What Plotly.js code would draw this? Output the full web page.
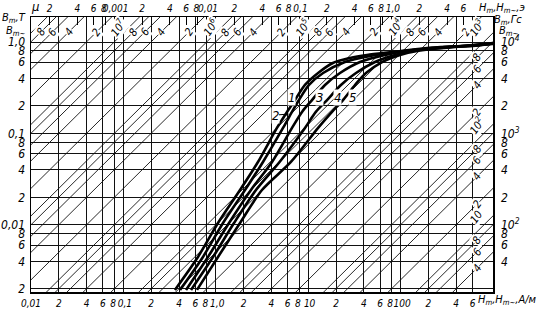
<!DOCTYPE html>
<html><head><meta charset="utf-8">
<script src="https://cdn.plot.ly/plotly-3.0.1.min.js"></script>
<style>html,body{margin:0;padding:0;background:#fff}#chart{width:544px;height:312px}</style>
</head><body><div id="chart"></div>
<script>
// ---- axis ticks ----
const H_tickvals = [0.01,0.02,0.04,0.06,0.08,0.1,0.2,0.4,0.6,0.8,1,2,4,6,8,10,20,40,60,80,100,200,400,600];
const H_ticktext = ["0,01","2","4","6","8\u00a0","\u00a00,1","2","4","6","8\u00a0","\u00a01,0","2","4","6","8\u00a0","\u00a010","2","4","6","8\u00a0","\u00a0100","2","4","6"];
const Oe_tickvals = [2e-4,4e-4,6e-4,8e-4,1e-3,2e-3,4e-3,6e-3,8e-3,0.01,0.02,0.04,0.06,0.08,0.1,0.2,0.4,0.6,0.8,1,2,4,6];
const Oe_ticktext = ["2","4","6","8\u00a0","\u00a00,001","2","4","6","8\u00a0","\u00a00,01","2","4","6","8\u00a0","\u00a00,1","2","4","6","8\u00a0","\u00a01,0","2","4","6"];
const B_tickvals = [0.002,0.004,0.006,0.008,0.01,0.02,0.04,0.06,0.08,0.1,0.2,0.4,0.6,0.8,1];
const B_ticktext = ["2","4","6","8","0,01","2","4","6","8","0,1","2","4","6","8","1,0"];
const Gs_tickvals = [40,60,80,100,200,400,600,800,1000,2000,4000,6000,8000,10000];
const Gs_ticktext = ["4","6","8","10<sup>2</sup>","2","4","6","8","10<sup>3</sup>","2","4","6","8","10<sup>4</sup>"];

// ---- permeability lines (relative permeability) ----
const mu_values = [4,6,8,10,20,40,60,80,100,200,400,600,800,1e3,2e3,4e3,6e3,8e3,1e4,2e4,4e4,6e4,8e4,1e5,2e5,4e5,6e5,8e5,1e6,2e6,4e6,6e6,8e6,1e7,2e7,4e7,6e7,8e7,1e8];
const mu_top_values = [8e7,6e7,4e7,2e7,1e7,8e6,6e6,4e6,2e6,1e6,8e5,6e5,4e5,2e5,1e5,8e4,6e4,4e4,2e4,1e4,8e3,6e3,4e3,2e3,1e3];
const mu_top_labels = ["8","6","4","2","10<sup>7</sup>","8","6","4","2","10<sup>6</sup>","8","6","4","2","10<sup>5</sup>","8","6","4","2","10<sup>4</sup>","8","6","4","2","10<sup>3</sup>"];
const mu_right_values = [800,600,400,200,100,80,60,40,20,10,8,6,4];
const mu_right_labels = ["8","6","4","2","10<sup>2</sup>","8","6","4","2","10","8","6","4"];

// ---- magnetization curves: H (A/m), B (T) ----
const curve1_H = [0.410,0.726,1.197,2.07,3.24,5.34,6.68,7.95,10.2,14.5,25.0,46.7,82.8,193,440,1000];
const curve1_B = [0.00195,0.00447,0.0105,0.0241,0.0488,0.115,0.172,0.232,0.339,0.458,0.604,0.703,0.768,0.849,0.898,0.951];
const curve2_H = [0.361,0.641,1.056,1.828,2.86,4.59,5.90,7.19,9.23,12.8,18.5,28.3,43.3,82.8,193,440,1000];
const curve2_B = [0.00195,0.00447,0.0105,0.0241,0.0488,0.115,0.172,0.232,0.339,0.458,0.589,0.668,0.721,0.778,0.860,0.904,0.963];
const curve3_H = [0.476,0.823,1.39,2.40,4.06,6.68,8.57,11.0,15.2,22.1,36.4,67.8,126,267,564,1000];
const curve3_B = [0.00195,0.00447,0.0105,0.0241,0.0488,0.115,0.172,0.232,0.339,0.458,0.604,0.721,0.807,0.871,0.916,0.975];
const curve4_H = [0.539,0.933,1.574,2.72,4.90,9.23,12.1,16.0,22.6,32.9,52.8,86.9,143,303,638,1000];
const curve4_B = [0.00195,0.00447,0.0105,0.0241,0.0488,0.115,0.172,0.232,0.339,0.458,0.604,0.721,0.807,0.871,0.916,0.963];
const curve5_H = [0.626,1.056,1.828,3.16,6.50,12.8,18.1,23.8,32.1,42.2,63.0,98.6,162,343,689,1000];
const curve5_B = [0.00195,0.00447,0.0105,0.0241,0.0488,0.115,0.172,0.232,0.339,0.458,0.604,0.721,0.807,0.871,0.916,0.963];
const curve_names = ["1","2","3","4","5"];

const MU0 = 4*Math.PI*1e-7;
const OE = 1000/(4*Math.PI); // A/m per oersted
const FONT = "'Liberation Sans Narrow', 'DejaVu Sans Condensed', 'DejaVu Sans', sans-serif";
const INK = '#111';
const L = Math.log10;

const xr = [-2, 3];
const yr = [L(0.00185), L(1.876)];

const traces = [];
const mx = [], my = [];
mu_values.forEach(m => { mx.push(1e-3, 1e4, null); my.push(MU0*m*1e-3, MU0*m*1e4, null); });
traces.push({x: mx, y: my, mode: 'lines', line: {color: INK, width: 0.9}, hoverinfo: 'skip', xaxis: 'x', yaxis: 'y'});

const curves = [[curve1_H,curve1_B],[curve2_H,curve2_B],[curve3_H,curve3_B],[curve4_H,curve4_B],[curve5_H,curve5_B]];
curves.forEach((c, i) => traces.push({x: c[0], y: c[1], name: curve_names[i], mode: 'lines',
  line: {color: '#000', width: 2.6, shape: 'spline', smoothing: 0.8}, hoverinfo: 'skip', xaxis: 'x', yaxis: 'y'}));

traces.push({x: [1e-3], y: [1], xaxis: 'x2', yaxis: 'y', mode: 'markers', marker: {opacity: 0}, hoverinfo: 'skip'});
traces.push({x: [1], y: [1000], xaxis: 'x', yaxis: 'y2', mode: 'markers', marker: {opacity: 0}, hoverinfo: 'skip'});

const annotations = [];
const lblFont = {family: FONT, size: 11, color: '#000', style: 'italic'};
const H_COL = 671, B_ROW = 1.28;
mu_top_values.forEach((m, i) => {
  const isPow = mu_top_labels[i].indexOf('sup') >= 0;
  let H = B_ROW/(MU0*m), B = B_ROW, ys = isPow ? 5 : 0, xs = isPow ? -6 : 0;
  if (H > H_COL) { H = H_COL; xs = 0; }
  annotations.push({x: L(H), y: L(B), xref: 'x', yref: 'y', text: mu_top_labels[i], showarrow: false,
    textangle: -55, font: lblFont, xshift: xs, yshift: ys, bgcolor: '#fff', borderpad: 0});
});
mu_right_values.forEach((m, i) => {
  const isPow = (mu_right_labels[i].length > 1);
  annotations.push({x: L(H_COL), y: L(MU0*m*H_COL), xref: 'x', yref: 'y', text: mu_right_labels[i], showarrow: false,
    textangle: -55, font: lblFont, yshift: isPow ? 15 : 0, bgcolor: '#fff', borderpad: 0});
});
const cf = {family: FONT, size: 13, color: '#000', style: 'italic'};
annotations.push({x: L(6.6), y: L(0.25), text: '1', showarrow: false, font: cf, bgcolor: '#fff', borderpad: 0});
annotations.push({x: L(6.2), y: L(0.163), ax: -14, ay: 1, text: '2', showarrow: true, arrowhead: 2, arrowsize: 0.6, arrowwidth: 1, arrowcolor: '#000', font: cf, bgcolor: '#fff', borderpad: 0});
annotations.push({x: L(13.1), y: L(0.25), text: '3', showarrow: false, font: cf, bgcolor: '#fff', borderpad: 0});
annotations.push({x: L(20.5), y: L(0.245), text: '4', showarrow: false, font: cf, bgcolor: '#fff', borderpad: 0});
annotations.push({x: L(30.5), y: L(0.25), text: '5', showarrow: false, font: cf, bgcolor: '#fff', borderpad: 0});

const af = {family: FONT, size: 11, color: '#000', style: 'italic'};
annotations.push({xref: 'paper', yref: 'paper', x: 0.963, y: -0.03, xanchor: 'left', yanchor: 'middle', text: 'H<sub>m</sub>,H<sub>m~</sub>,A/м', showarrow: false, font: af});
annotations.push({xref: 'paper', yref: 'paper', x: 0.965, y: 1.032, xanchor: 'left', yanchor: 'middle', text: 'H<sub>m</sub>,H<sub>m~</sub>,э', showarrow: false, font: af});
annotations.push({xref: 'paper', yref: 'paper', x: 0.997, y: 0.988, xanchor: 'left', yanchor: 'middle', text: 'B<sub>m</sub>,Гс', showarrow: false, font: af});
annotations.push({xref: 'paper', yref: 'paper', x: 1.008, y: 0.948, xanchor: 'left', yanchor: 'middle', text: 'B<sub>m~</sub>', showarrow: false, font: af});
annotations.push({xref: 'paper', yref: 'paper', x: -0.006, y: 0.995, xanchor: 'right', yanchor: 'middle', text: 'B<sub>m</sub>,T', showarrow: false, font: af});
annotations.push({xref: 'paper', yref: 'paper', x: -0.006, y: 0.95, xanchor: 'right', yanchor: 'middle', text: 'B<sub>m~</sub>', showarrow: false, font: af});
annotations.push({xref: 'paper', yref: 'paper', x: 0.009, y: 1.038, xanchor: 'center', yanchor: 'middle', text: 'μ', showarrow: false, font: {family: FONT, size: 13, color: '#000', style: 'italic'}});

const tf = {family: FONT, size: 10, color: '#000', style: 'italic'};
const layout = {
  width: 544, height: 312,
  margin: {l: 31, r: 51, t: 17, b: 20, pad: 0},
  paper_bgcolor: '#fff', plot_bgcolor: '#fff',
  showlegend: false, hovermode: false,
  xaxis: {type: 'log', range: xr, tickvals: H_tickvals, ticktext: H_ticktext, tickfont: tf, tickangle: 0,
    showgrid: true, gridcolor: INK, gridwidth: 1, showline: true, linecolor: '#000', linewidth: 1.5,
    ticks: '', zeroline: false, ticklabelstandoff: 1},
  xaxis2: {type: 'log', overlaying: 'x', side: 'top', range: [xr[0]-L(OE), xr[1]-L(OE)], tickangle: 0,
    tickvals: Oe_tickvals, ticktext: Oe_ticktext, tickfont: tf, showgrid: false,
    showline: true, linecolor: '#000', linewidth: 1.5, ticks: 'inside', ticklen: 8, tickcolor: '#000', tickwidth: 1, zeroline: false},
  yaxis: {type: 'log', range: yr, tickvals: B_tickvals, ticktext: B_ticktext, tickfont: {family: FONT, size: 12, color: '#000', style: 'italic'},
    showgrid: true, gridcolor: INK, gridwidth: 1, showline: true, linecolor: '#000', linewidth: 1.5,
    ticks: '', zeroline: false, ticklabelstandoff: 2},
  yaxis2: {type: 'log', overlaying: 'y', side: 'right', range: [yr[0]+4, yr[1]+4], tickvals: Gs_tickvals, ticktext: Gs_ticktext,
    tickfont: {family: FONT, size: 12, color: '#000', style: 'italic'}, showgrid: false, showline: true, linecolor: '#000', linewidth: 1.5,
    ticks: '', zeroline: false, ticklabelstandoff: 4},
  annotations: annotations
};
Plotly.newPlot('chart', traces, layout, {staticPlot: true, displayModeBar: false});
</script></body></html>
